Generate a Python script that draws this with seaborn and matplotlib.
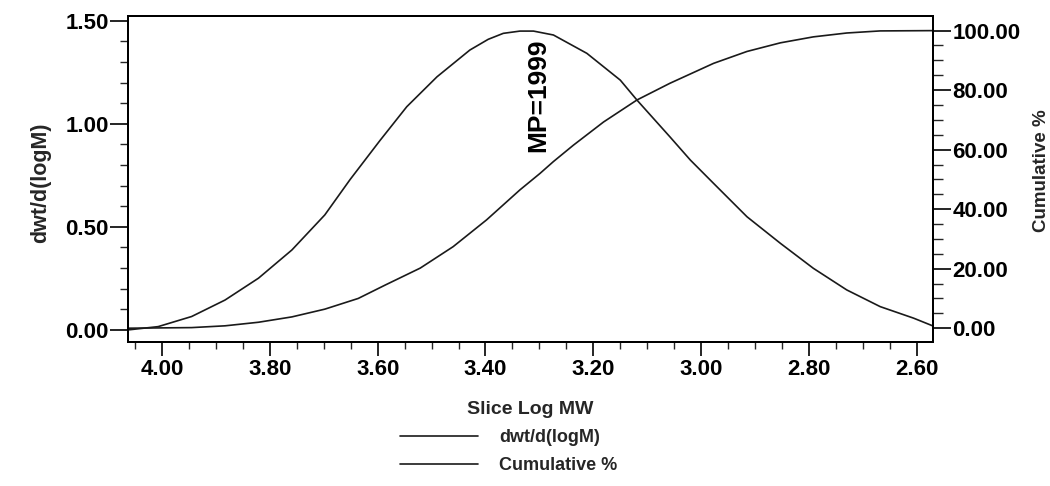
import numpy as np
import pandas as pd
import matplotlib
matplotlib.use("Agg")
import matplotlib.pyplot as plt
import seaborn as sns
from matplotlib.ticker import MultipleLocator, FormatStrFormatter
from matplotlib.lines import Line2D

# ---- data ----
dwt_logmw = [4.063, 4.007, 3.945, 3.883, 3.821, 3.759, 3.698, 3.651, 3.596, 3.546,
             3.490, 3.429, 3.395, 3.367, 3.336, 3.311, 3.274, 3.212, 3.150, 3.119,
             3.058, 3.020, 2.977, 2.915, 2.853, 2.792, 2.730, 2.668, 2.606, 2.569]
dwt_values = [0.000, 0.016, 0.065, 0.145, 0.251, 0.388, 0.558, 0.730, 0.918, 1.083,
              1.228, 1.358, 1.410, 1.439, 1.450, 1.450, 1.431, 1.342, 1.212, 1.115,
              0.937, 0.824, 0.711, 0.549, 0.420, 0.299, 0.194, 0.113, 0.057, 0.018]

cum_logmw = [4.063, 3.945, 3.883, 3.821, 3.759, 3.698, 3.636, 3.586, 3.521, 3.460,
             3.398, 3.336, 3.299, 3.274, 3.237, 3.181, 3.119, 3.058, 2.977,
             2.915, 2.853, 2.792, 2.730, 2.668, 2.569]
cum_values = [0.0, 0.2, 0.8, 2.0, 3.8, 6.4, 10.0, 14.5, 20.2, 27.4,
              36.4, 46.5, 52.0, 56.0, 61.5, 69.3, 76.7, 82.3, 89.0,
              93.0, 95.9, 97.9, 99.2, 99.9, 100.0]

x_label = "Slice Log MW"
y_left_label = "dwt/d(logM)"
y_right_label = "Cumulative %"
series_names = ["dwt/d(logM)", "Cumulative %"]
peak_label = "MP=1999"
peak_x = 3.302
peak_y = 1.416

sns.set_style("ticks")
plt.rcParams["font.family"] = ["Liberation Sans", "DejaVu Sans"]

fig = plt.figure(figsize=(10.5, 4.86), dpi=100)
ax = fig.add_axes([0.1219, 0.2953, 0.8886 - 0.1219, 0.967 - 0.2953])
ax2 = ax.twinx()

line_color = "#1a1a1a"
df1 = pd.DataFrame({"x": dwt_logmw, "y": dwt_values})
df2 = pd.DataFrame({"x": cum_logmw, "y": cum_values})
sns.lineplot(data=df1, x="x", y="y", ax=ax, color=line_color, lw=1.2, sort=False)
sns.lineplot(data=df2, x="x", y="y", ax=ax2, color=line_color, lw=1.2, sort=False)

ax.set_xlim(4.063, 2.570)
ax.set_ylim(-0.061, 1.523)
ax2.set_ylim(-4.8, 104.9)

ax.xaxis.set_major_locator(MultipleLocator(0.2))
ax.xaxis.set_minor_locator(MultipleLocator(0.05))
ax.xaxis.set_major_formatter(FormatStrFormatter("%.2f"))
ax.yaxis.set_major_locator(MultipleLocator(0.5))
ax.yaxis.set_minor_locator(MultipleLocator(0.1))
ax.yaxis.set_major_formatter(FormatStrFormatter("%.2f"))
ax2.yaxis.set_major_locator(MultipleLocator(20))
ax2.yaxis.set_minor_locator(MultipleLocator(5))
ax2.yaxis.set_major_formatter(FormatStrFormatter("%.2f"))

for a in (ax, ax2):
    for s in a.spines.values():
        s.set_color("black")
        s.set_linewidth(1.4)
ax.tick_params(axis="x", which="major", length=10, width=1.2, labelsize=16, pad=2, colors="black")
ax.tick_params(axis="x", which="minor", length=5, width=1.0)
ax.tick_params(axis="y", which="major", length=13, width=1.2, labelsize=16, pad=1, colors="black")
ax.tick_params(axis="y", which="minor", length=6, width=1.0)
ax2.tick_params(axis="y", which="major", length=13, width=1.2, labelsize=16, pad=1, colors="black")
ax2.tick_params(axis="y", which="minor", length=7, width=1.0)
for lab in ax.get_xticklabels() + ax.get_yticklabels() + ax2.get_yticklabels():
    lab.set_fontweight("bold")

ax.set_xlabel(x_label, fontsize=14, fontweight="bold", labelpad=15)
ax.set_ylabel(y_left_label, fontsize=15.5, fontweight="bold")
ax.yaxis.set_label_coords(-0.095, 0.49)
ax2.set_ylabel(y_right_label, fontsize=13.5, fontweight="bold")
ax2.yaxis.set_label_coords(1.124, 0.525)

ax.text(peak_x, peak_y, peak_label, rotation=90, ha="center", va="top",
        fontsize=19, fontweight="bold", color="black")

handles = [Line2D([], [], color=line_color, lw=1.2),
           Line2D([], [], color=line_color, lw=1.2)]
fig.legend(handles, series_names, loc="upper left", bbox_to_anchor=(0.381, 0.117),
           frameon=False, prop={"size": 13, "weight": "bold"}, handlelength=4.3,
           handletextpad=1.2, labelspacing=0.62, borderpad=0, borderaxespad=0)

fig.savefig("out.png", dpi=100)
